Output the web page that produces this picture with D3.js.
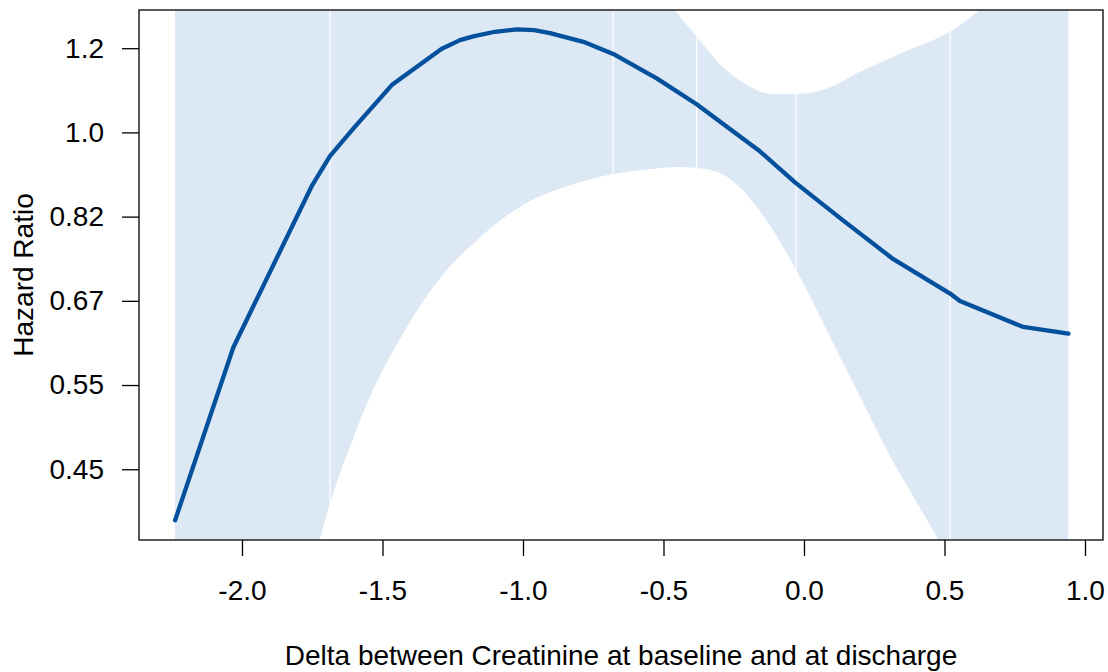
<!DOCTYPE html>
<html>
<head>
<meta charset="utf-8">
<script src="https://cdn.jsdelivr.net/npm/d3@7"></script>
<style>
  html, body { margin: 0; padding: 0; background: #fff; }
  svg { display: block; }
  text { font-family: "Liberation Sans", Arial, Helvetica, sans-serif; fill: #000; }
</style>
</head>
<body>
<svg id="chart" width="1108" height="672"></svg>
<script>
// ---- data ----
const curveX  = [-2.238, -2.031, -1.752, -1.687, -1.604, -1.467, -1.289, -1.224, -1.177, -1.100, -1.022, -0.960, -0.904, -0.785, -0.679, -0.524, -0.382, -0.157, -0.032, 0.140, 0.318, 0.520, 0.555, 0.780, 0.941];
const curveHR = [0.398, 0.600, 0.880, 0.945, 1.009, 1.119, 1.220, 1.245, 1.256, 1.270, 1.277, 1.275, 1.266, 1.240, 1.205, 1.137, 1.069, 0.956, 0.888, 0.811, 0.740, 0.682, 0.670, 0.630, 0.620];

const bandX     = [-2.238, -2.031, -1.752, -1.687, -1.604, -1.533, -1.462, -1.289, -1.177, -1.022, -0.821, -0.679, -0.524, -0.453, -0.382, -0.299, -0.204, -0.121, -0.032, 0.081, 0.199, 0.318, 0.377, 0.478, 0.555, 0.615, 0.780, 0.941];
const bandLower = [0.143, 0.205, 0.354, 0.414, 0.484, 0.543, 0.595, 0.711, 0.768, 0.834, 0.884, 0.906, 0.918, 0.921, 0.919, 0.908, 0.863, 0.801, 0.725, 0.625, 0.534, 0.457, 0.427, 0.380, 0.345, 0.320, 0.260, 0.210];
const bandUpper = [3.20, 2.90, 2.50, 2.40, 2.30, 2.20, 2.10, 1.95, 1.85, 1.75, 1.63, 1.55, 1.43, 1.330, 1.256, 1.176, 1.120, 1.096, 1.095, 1.110, 1.155, 1.197, 1.218, 1.252, 1.290, 1.330, 1.48, 1.65];

const seamX = [-1.687, -0.679, -0.382, -0.028, 0.520];

const xTicks = [-2.0, -1.5, -1.0, -0.5, 0.0, 0.5, 1.0];
const xTickLabels = ["-2.0", "-1.5", "-1.0", "-0.5", "0.0", "0.5", "1.0"];
const yTicks = [0.4493, 0.5488, 0.6703, 0.8187, 1.0, 1.2214];
const yTickLabels = ["0.45", "0.55", "0.67", "0.82", "1.0", "1.2"];

const xTitle = "Delta between Creatinine at baseline and at discharge";
const yTitle = "Hazard Ratio";

// ---- layout ----
const L = 139, R = 1103, T = 10, B = 540;
const FS = 28;
const svg = d3.select("#chart");

const x = d3.scaleLinear().domain([-2.3665, 1.0641]).range([L, R]);
const y = d3.scaleLog().domain([0.3798, 1.3374]).range([B, T]);

svg.append("defs").append("clipPath").attr("id", "plotclip")
  .append("rect").attr("x", L).attr("y", T).attr("width", R - L).attr("height", B - T);

const plot = svg.append("g").attr("clip-path", "url(#plotclip)");

// confidence band
const bandData = bandX.map((v, i) => ({ x: v, lo: bandLower[i], hi: bandUpper[i] }));
plot.append("path")
  .datum(bandData)
  .attr("fill", "#dde8f5")
  .attr("stroke", "none")
  .attr("d", d3.area().x(d => x(d.x)).y0(d => y(d.lo)).y1(d => y(d.hi)).curve(d3.curveMonotoneX));

// white seams inside band
plot.selectAll("line.seam").data(seamX).enter().append("line")
  .attr("class", "seam")
  .attr("x1", d => x(d)).attr("x2", d => x(d))
  .attr("y1", T).attr("y2", B)
  .attr("stroke", "#ffffff").attr("stroke-width", 1.2);

// main curve
const curveData = curveX.map((v, i) => ({ x: v, hr: curveHR[i] }));
plot.append("path")
  .datum(curveData)
  .attr("fill", "none")
  .attr("stroke", "#03509c")
  .attr("stroke-width", 4.3)
  .attr("stroke-linecap", "round")
  .attr("stroke-linejoin", "round")
  .attr("d", d3.line().x(d => x(d.x)).y(d => y(d.hr)).curve(d3.curveLinear));

// box
svg.append("rect").attr("x", L).attr("y", T).attr("width", R - L).attr("height", B - T)
  .attr("fill", "none").attr("stroke", "#000").attr("stroke-width", 1.3);

// axes
const xAxis = d3.axisBottom(x).tickValues(xTicks)
  .tickFormat((d, i) => xTickLabels[i]).tickSize(16).tickSizeOuter(0).tickPadding(24);
const gx = svg.append("g").attr("transform", `translate(0,${B})`).call(xAxis);
gx.select(".domain").remove();
gx.selectAll(".tick line").attr("stroke", "#000").attr("stroke-width", 1.3);
gx.selectAll(".tick text").attr("font-size", FS).attr("font-family", "Liberation Sans, Arial, sans-serif").attr("fill", "#000");

const yAxis = d3.axisLeft(y).tickValues(yTicks)
  .tickFormat((d, i) => yTickLabels[i]).tickSize(17).tickSizeOuter(0).tickPadding(18);
const gy = svg.append("g").attr("transform", `translate(${L},0)`).call(yAxis);
gy.select(".domain").remove();
gy.selectAll(".tick line").attr("stroke", "#000").attr("stroke-width", 1.3);
gy.selectAll(".tick text").attr("font-size", FS).attr("font-family", "Liberation Sans, Arial, sans-serif").attr("fill", "#000");

// titles
svg.append("text")
  .attr("x", (L + R) / 2).attr("y", 665)
  .attr("text-anchor", "middle").attr("font-size", FS)
  .text(xTitle);

svg.append("text")
  .attr("transform", `translate(33,${(T + B) / 2}) rotate(-90)`)
  .attr("text-anchor", "middle").attr("font-size", FS)
  .text(yTitle);
</script>
</body>
</html>
